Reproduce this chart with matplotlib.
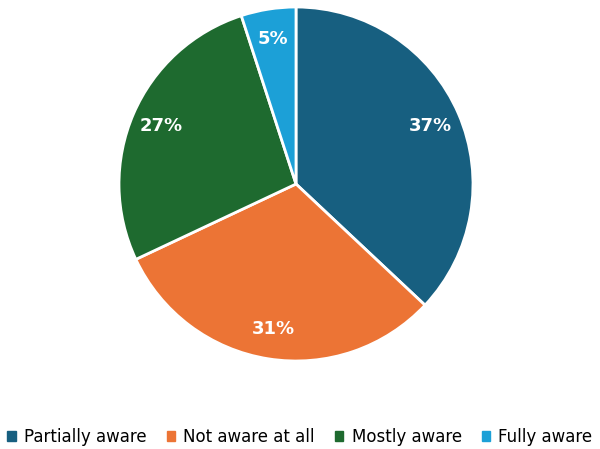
import matplotlib.pyplot as plt
from matplotlib.patches import Rectangle

labels = ['Partially aware', 'Not aware at all', 'Mostly aware', 'Fully aware']
shares = [37, 31, 27, 5]
colors = ['#175f80', '#ec7435', '#1e6a2f', '#1ca0d7']

plt.rcParams['font.family'] = 'DejaVu Sans'

fig = plt.figure(figsize=(6, 4.49), dpi=100)
# pie area: centre ~ (296, 184) px, radius ~177 px
ax = fig.add_axes([(296 - 177) / 600, (449 - 184 - 177) / 449, 354 / 600, 354 / 449])

wedges, texts, autotexts = ax.pie(
    shares, colors=colors, startangle=90, counterclock=False,
    autopct='%d%%', pctdistance=0.83,
    wedgeprops=dict(edgecolor='white', linewidth=2))
for t in autotexts:
    t.set_color('white')
    t.set_fontsize(13)
    t.set_fontweight('bold')
ax.set_xlim(-1.0, 1.0)
ax.set_ylim(-1.0, 1.0)
ax.set_aspect('equal')

handles = [Rectangle((0, 0), 1, 1, color=c) for c in colors]
leg = fig.legend(handles, labels, loc='center', bbox_to_anchor=(0.5, 1 - 437 / 449),
                 ncol=4, frameon=False, fontsize=12, handlelength=0.5, handleheight=0.5,
                 handletextpad=0.5, columnspacing=1.2, borderaxespad=0, borderpad=0)

fig.savefig('out.png', dpi=100)
